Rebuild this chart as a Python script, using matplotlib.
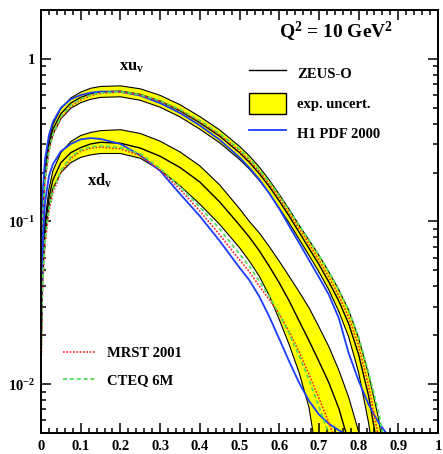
import numpy as np
import matplotlib
matplotlib.use('Agg')
import matplotlib.pyplot as plt
from matplotlib.lines import Line2D
from matplotlib.patches import Patch
from matplotlib.ticker import FixedLocator, MultipleLocator, LogLocator, FuncFormatter, NullFormatter

plt.rcParams['font.family'] = 'Liberation Serif'
plt.rcParams['font.weight'] = 'bold'
plt.rcParams['mathtext.fontset'] = 'custom'
plt.rcParams['mathtext.rm'] = 'Liberation Serif:bold'
plt.rcParams['mathtext.it'] = 'Liberation Serif:bold'
plt.rcParams['mathtext.bf'] = 'Liberation Serif:bold'

# x grid shared by all curves
x = [0.001, 0.003, 0.005, 0.01, 0.02, 0.03, 0.05, 0.075, 0.1, 0.125, 0.15, 0.2, 0.25,
     0.3, 0.35, 0.4, 0.45, 0.5, 0.525, 0.55, 0.575, 0.6, 0.625, 0.65, 0.675, 0.7,
     0.725, 0.75, 0.775, 0.8, 0.825, 0.85, 0.875, 0.9]

# xu_v
zeus_u = [0.045, 0.09, 0.125, 0.2, 0.3, 0.37, 0.46, 0.535, 0.58, 0.61, 0.627, 0.633, 0.605,
          0.55, 0.48, 0.405, 0.335, 0.265, 0.231, 0.197, 0.164, 0.134, 0.108, 0.086, 0.0685,
          0.0545, 0.0425, 0.0325, 0.0235, 0.0152, 0.0085, 0.0038, 0.0012, 0.0003]
zeus_u_hi = [0.048, 0.095, 0.133, 0.213, 0.32, 0.395, 0.495, 0.575, 0.625, 0.66, 0.677, 0.683, 0.655,
             0.597, 0.523, 0.442, 0.366, 0.29, 0.253, 0.216, 0.18, 0.147, 0.119, 0.095, 0.077,
             0.062, 0.049, 0.038, 0.0285, 0.0192, 0.0115, 0.0062, 0.0025, 0.0006]
zeus_u_lo = [0.042, 0.085, 0.117, 0.187, 0.28, 0.345, 0.428, 0.497, 0.538, 0.565, 0.58, 0.585, 0.557,
             0.505, 0.44, 0.37, 0.305, 0.241, 0.21, 0.179, 0.149, 0.121, 0.098, 0.078, 0.062,
             0.049, 0.038, 0.028, 0.0195, 0.0118, 0.0058, 0.0022, 0.0006, 0.0001]
h1_u = [0.06, 0.12, 0.16, 0.24, 0.34, 0.41, 0.5, 0.565, 0.6, 0.62, 0.63, 0.628, 0.595,
        0.535, 0.465, 0.39, 0.318, 0.248, 0.214, 0.181, 0.149, 0.12, 0.094, 0.074, 0.058,
        0.0455, 0.0355, 0.0255, 0.0155, 0.0105, 0.0075, 0.0058, 0.0048, 0.0042]
mrst_u = [0.035, 0.075, 0.105, 0.175, 0.27, 0.34, 0.43, 0.51, 0.56, 0.595, 0.615, 0.625, 0.6,
          0.55, 0.485, 0.412, 0.342, 0.272, 0.237, 0.203, 0.17, 0.14, 0.113, 0.091, 0.073,
          0.058, 0.0455, 0.035, 0.0258, 0.0172, 0.0098, 0.0047, 0.0017, 0.0005]
cteq_u = [0.04, 0.08, 0.11, 0.18, 0.275, 0.345, 0.44, 0.52, 0.568, 0.6, 0.618, 0.627, 0.602,
          0.553, 0.488, 0.417, 0.347, 0.278, 0.243, 0.208, 0.175, 0.144, 0.117, 0.095, 0.077,
          0.062, 0.049, 0.038, 0.0285, 0.0195, 0.0118, 0.0068, 0.0032, 0.0009]

# xd_v
zeus_d = [0.02, 0.04, 0.055, 0.09, 0.14, 0.18, 0.23, 0.265, 0.285, 0.3, 0.307, 0.303, 0.283,
          0.252, 0.215, 0.175, 0.132, 0.095, 0.08, 0.066, 0.053, 0.042, 0.0325, 0.0245, 0.0185,
          0.0138, 0.0102, 0.0071, 0.0044, 0.0024, 0.001, 0.0003, 0.0001, 0.0001]
zeus_d_hi = [0.022, 0.045, 0.062, 0.1, 0.158, 0.205, 0.265, 0.31, 0.338, 0.353, 0.362, 0.367, 0.348,
             0.312, 0.268, 0.22, 0.168, 0.12, 0.1, 0.085, 0.07, 0.057, 0.046, 0.037, 0.0295,
             0.0225, 0.017, 0.0122, 0.0083, 0.0051, 0.0026, 0.0011, 0.0003, 0.0001]
zeus_d_lo = [0.018, 0.036, 0.05, 0.08, 0.125, 0.16, 0.2, 0.23, 0.248, 0.257, 0.262, 0.262, 0.245,
             0.207, 0.166, 0.128, 0.096, 0.069, 0.057, 0.046, 0.035, 0.025, 0.0175, 0.0118, 0.0072,
             0.003, 0.0008, 0.0002, 0.0001, 0.0001, 0.0001, 0.0001, 0.0001, 0.0001]
h1_d = [0.025, 0.055, 0.08, 0.13, 0.19, 0.225, 0.27, 0.3, 0.32, 0.326, 0.322, 0.3, 0.255,
        0.205, 0.148, 0.108, 0.076, 0.052, 0.0435, 0.0345, 0.026, 0.019, 0.0138, 0.0102, 0.0079,
        0.0065, 0.0057, 0.0052, 0.0048, 0.0045, 0.0042, 0.004, 0.0038, 0.0036]
mrst_d = [0.015, 0.032, 0.045, 0.072, 0.115, 0.15, 0.2, 0.245, 0.27, 0.283, 0.287, 0.28, 0.255,
          0.207, 0.158, 0.116, 0.083, 0.058, 0.049, 0.04, 0.033, 0.027, 0.021, 0.0158, 0.0115,
          0.0082, 0.0058, 0.0039, 0.0022, 0.001, 0.0003, 0.0001, 0.0001, 0.0001]
cteq_d = [0.017, 0.035, 0.048, 0.077, 0.12, 0.155, 0.205, 0.25, 0.275, 0.288, 0.292, 0.285, 0.262,
          0.212, 0.164, 0.123, 0.09, 0.063, 0.053, 0.043, 0.0345, 0.027, 0.0205, 0.015, 0.0106,
          0.0073, 0.0049, 0.0031, 0.0017, 0.0008, 0.0002, 0.0001, 0.0001, 0.0001]

YELLOW = '#ffff00'
BLUE = '#1a3cff'
RED = '#ff2020'
GREEN = '#55dd55'
RED_LS = (0, (1, 1))
GREEN_LS = (0, (2.2, 1.6))

fig = plt.figure(figsize=(4.43, 4.54), dpi=100)
ax = fig.add_axes([41 / 443, 21 / 454, 397 / 443, 423 / 454])
ax.set_yscale('log')

for lo, hi, mid, h1, mrst, cteq in [(zeus_u_lo, zeus_u_hi, zeus_u, h1_u, mrst_u, cteq_u),
                                     (zeus_d_lo, zeus_d_hi, zeus_d, h1_d, mrst_d, cteq_d)]:
    ax.fill_between(x, lo, hi, color=YELLOW, lw=0)
    ax.plot(x, hi, color='black', lw=0.8)
    ax.plot(x, lo, color='black', lw=0.8)
    ax.plot(x, mid, color='black', lw=1.0)
    ax.plot(x, h1, color=BLUE, lw=1.3)
    ax.plot(x, mrst, color=RED, lw=1.2, ls=RED_LS)
    ax.plot(x, cteq, color=GREEN, lw=1.3, ls=GREEN_LS)

ax.set_xlim(0, 1)
ax.set_ylim(0.005, 2)

# axes and ticks
for sp in ax.spines.values():
    sp.set_linewidth(1.4)
ax.xaxis.set_major_locator(MultipleLocator(0.1))
ax.xaxis.set_minor_locator(MultipleLocator(0.02))
ax.xaxis.set_major_formatter(FuncFormatter(lambda v, p: f'{v:g}'))
ax.yaxis.set_major_locator(FixedLocator([0.01, 0.1, 1]))
ax.yaxis.set_minor_locator(LogLocator(subs=np.arange(2, 10)))
ax.yaxis.set_minor_formatter(NullFormatter())
ylab = {0.01: r'$10^{-2}$', 0.1: r'$10^{-1}$', 1: '1'}
ax.yaxis.set_major_formatter(FuncFormatter(lambda v, p: ylab.get(round(v, 3), '')))
ax.tick_params(which='both', direction='in', top=True, right=True, width=1.1, labelsize=10.5)
ax.tick_params(axis='x', which='major', length=7, pad=5)
ax.tick_params(axis='x', which='minor', length=3.5)
ax.tick_params(axis='y', which='major', length=7, pad=4)
ax.tick_params(axis='y', which='minor', length=3.5)

ax.text(0.743, 0.948, r'Q$^2$ = 10 GeV$^2$', transform=ax.transAxes, ha='center', va='center', fontsize=14)
ax.text(0.229, 0.865, r'xu$_\mathrm{v}$', transform=ax.transAxes, ha='center', va='center', fontsize=12)
ax.text(0.149, 0.596, r'xd$_\mathrm{v}$', transform=ax.transAxes, ha='center', va='center', fontsize=12)

h_top = [Line2D([], [], color='black', lw=1.0),
         Patch(facecolor=YELLOW, edgecolor='black', lw=1.0),
         Line2D([], [], color=BLUE, lw=1.3)]
leg1 = ax.legend(h_top, ['ZEUS-O', 'exp. uncert.', 'H1 PDF 2000'], loc='upper left',
                 bbox_to_anchor=(0.524, 0.876), frameon=False, fontsize=10.5,
                 handlelength=2.55, handleheight=1.84, handletextpad=0.75,
                 labelspacing=0.62, borderpad=0, borderaxespad=0)
ax.add_artist(leg1)

h_bot = [Line2D([], [], color=RED, lw=1.2, ls=RED_LS),
         Line2D([], [], color=GREEN, lw=1.3, ls=GREEN_LS)]
ax.legend(h_bot, ['MRST 2001', 'CTEQ 6M'], loc='upper left', bbox_to_anchor=(0.055, 0.203),
          frameon=False, fontsize=10.5, handlelength=2.2, handletextpad=0.8,
          labelspacing=0.9, borderpad=0, borderaxespad=0)

fig.savefig('out.png', dpi=100)
